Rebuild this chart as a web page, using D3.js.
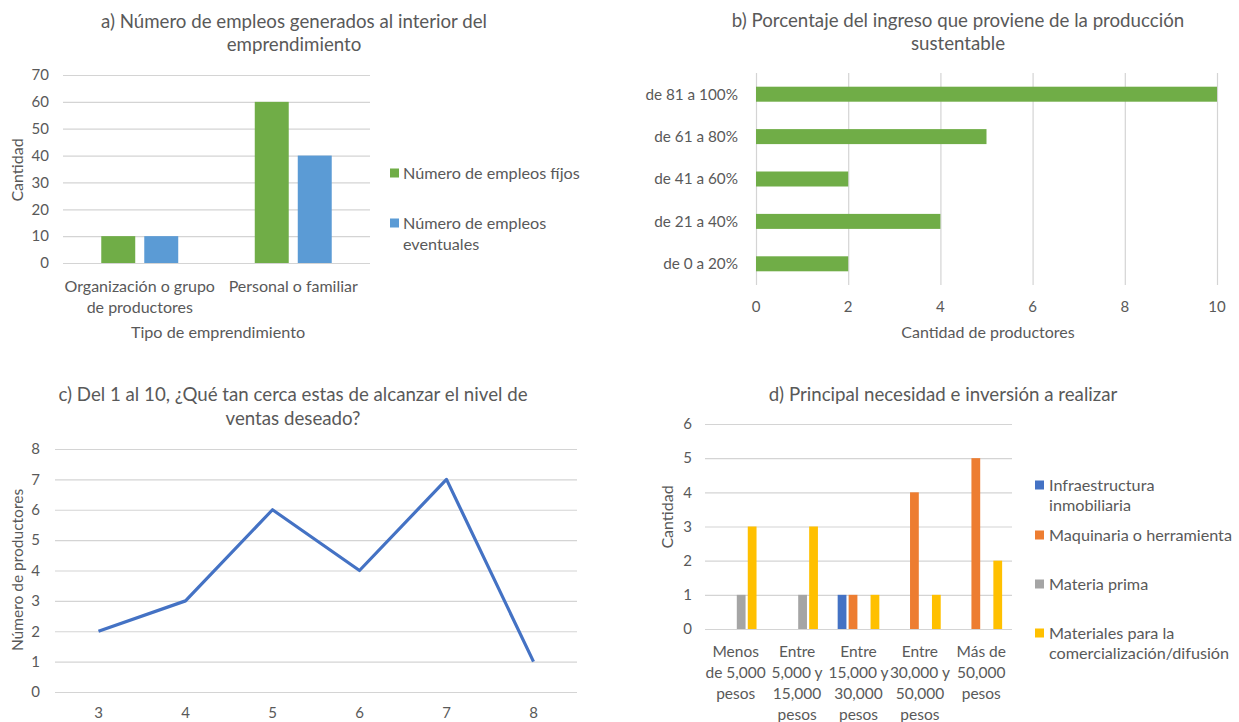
<!DOCTYPE html>
<html>
<head>
<meta charset="utf-8">
<script src="https://cdnjs.cloudflare.com/ajax/libs/d3/7.8.5/d3.min.js"></script>
<style>
  body { margin: 0; background: #fff; }
  svg text { font-family: Lato, "Open Sans", sans-serif; fill: #595959; }
  .grid line { stroke: #d4d4d4; stroke-width: 1.2px; }
  .grid .domain { display: none; }
</style>
</head>
<body>
<div id="chart"></div>
<script>
// a) empleos
var catA = ["Organización o grupo de productores", "Personal o familiar"];
var catALabels = [["Organización o grupo", "de productores"], ["Personal o familiar"]];
var seriesA = ["Número de empleos fíjos", "Número de empleos eventuales"];
var seriesALegend = [["Número de empleos fíjos"], ["Número de empleos", "eventuales"]];
var empleosFijos = [10, 60];
var empleosEventuales = [10, 40];
var ticksA = [0, 10, 20, 30, 40, 50, 60, 70];

// b) porcentaje del ingreso
var catB = ["de 0 a 20%", "de 21 a 40%", "de 41 a 60%", "de 61 a 80%", "de 81 a 100%"];
var productoresB = [2, 4, 2, 5, 10];
var ticksB = [0, 2, 4, 6, 8, 10];

// c) nivel de ventas
var catC = [3, 4, 5, 6, 7, 8];
var productoresC = [2, 3, 6, 4, 7, 1];
var ticksC = [0, 1, 2, 3, 4, 5, 6, 7, 8];

// d) necesidad e inversion
var catD = ["Menos de 5,000 pesos", "Entre 5,000 y 15,000 pesos", "Entre 15,000 y 30,000 pesos",
            "Entre 30,000 y 50,000 pesos", "Más de 50,000 pesos"];
var catDLabels = [["Menos", "de 5,000", "pesos"], ["Entre", "5,000 y", "15,000", "pesos"],
                  ["Entre", "15,000 y", "30,000", "pesos"], ["Entre", "30,000 y", "50,000", "pesos"],
                  ["Más de", "50,000", "pesos"]];
var seriesD = ["Infraestructura inmobiliaria", "Maquinaria o herramienta", "Materia prima",
               "Materiales para la comercialización/difusión"];
var seriesDLegend = [["Infraestructura", "inmobiliaria"], ["Maquinaria o herramienta"], ["Materia prima"],
                     ["Materiales para la", "comercialización/difusión"]];
var infraestructura = [0, 0, 1, 0, 0];
var maquinaria = [0, 0, 1, 4, 5];
var materiaPrima = [1, 1, 0, 0, 0];
var materiales = [3, 3, 1, 1, 2];
var ticksD = [0, 1, 2, 3, 4, 5, 6];

var svg = d3.select("#chart").append("svg").attr("width", 1239).attr("height", 722);

// writes several lines of text centred on x, first line at y
function multiLine(g, lines, x, y, step, size, anchor) {
  lines.forEach(function(t, i) {
    g.append("text")
      .attr("x", x)
      .attr("y", y + i * step)
      .attr("dy", "0.35em")
      .attr("text-anchor", anchor || "middle")
      .attr("font-size", size)
      .text(t);
  });
}

function axisTitle(x, y, text, size, rotate) {
  svg.append("text")
    .attr("transform", "translate(" + x + "," + y + ")" + (rotate ? " rotate(-90)" : ""))
    .attr("dy", "0.35em")
    .attr("text-anchor", "middle")
    .attr("font-size", size)
    .text(text);
}

var titleSize = 18.7, tickSize = 15, legendSize = 16.2, catSize = 16;

// ---------- a ----------
var xA = d3.scaleBand().domain(catA).range([63, 370]);
var xA1 = d3.scaleBand().domain(seriesA).range([0, xA.bandwidth()]).paddingInner(0.21).paddingOuter(0.89);
var yA = d3.scaleLinear().domain([0, 70]).range([263, 75]);
var colorsA = ["#70AD47", "#5B9BD5"];

multiLine(svg, ["a) Número de empleos generados al interior del", "emprendimiento"], 294, 21, 23, titleSize);

svg.append("g").attr("class", "grid")
  .attr("transform", "translate(63,0)")
  .call(d3.axisLeft(yA).tickValues(ticksA).tickSize(-307).tickFormat(""));

svg.append("g").selectAll("text").data(ticksA).enter().append("text")
  .attr("x", 49).attr("y", function(d) { return yA(d); })
  .attr("dy", "0.35em").attr("text-anchor", "end").attr("font-size", tickSize)
  .text(function(d) { return d; });

[empleosFijos, empleosEventuales].forEach(function(vals, s) {
  svg.append("g").selectAll("rect").data(vals).enter().append("rect")
    .attr("x", function(d, i) { return xA(catA[i]) + xA1(seriesA[s]); })
    .attr("y", function(d) { return yA(d); })
    .attr("width", xA1.bandwidth())
    .attr("height", function(d) { return yA(0) - yA(d); })
    .attr("fill", colorsA[s]);
});

catALabels.forEach(function(lines, i) {
  multiLine(svg, lines, xA(catA[i]) + xA.bandwidth() / 2, 286, 21, catSize);
});
axisTitle(218, 332, "Tipo de emprendimiento", 16.2);
axisTitle(17, 170, "Cantidad", 16, true);

var legA = [173, 223];
seriesALegend.forEach(function(lines, s) {
  svg.append("rect").attr("x", 390).attr("y", legA[s] - 4.5).attr("width", 9).attr("height", 9).attr("fill", colorsA[s]);
  multiLine(svg, lines, 403, legA[s], 21, legendSize, "start");
});

// ---------- b ----------
var xB = d3.scaleLinear().domain([0, 10]).range([756, 1217]);
var yB = d3.scaleBand().domain(catB.slice().reverse()).range([73, 285]);

multiLine(svg, ["b) Porcentaje del ingreso que proviene de la producción", "sustentable"], 958, 20, 23, titleSize);

svg.append("g").attr("class", "grid")
  .attr("transform", "translate(0,285)")
  .call(d3.axisBottom(xB).tickValues(ticksB).tickSize(-212).tickFormat(""));

svg.append("g").selectAll("text").data(ticksB).enter().append("text")
  .attr("x", function(d) { return xB(d); }).attr("y", 307)
  .attr("dy", "0.35em").attr("text-anchor", "middle").attr("font-size", tickSize)
  .text(function(d) { return d; });

svg.append("g").selectAll("rect").data(productoresB).enter().append("rect")
  .attr("x", xB(0))
  .attr("y", function(d, i) { return yB(catB[i]) + yB.bandwidth() / 2 - 7.5; })
  .attr("width", function(d) { return xB(d) - xB(0); })
  .attr("height", 15)
  .attr("fill", "#70AD47");

svg.append("g").selectAll("text").data(catB).enter().append("text")
  .attr("x", 738).attr("y", function(d) { return yB(d) + yB.bandwidth() / 2; })
  .attr("dy", "0.35em").attr("text-anchor", "end").attr("font-size", 15.3)
  .text(function(d) { return d; });

axisTitle(988, 332, "Cantidad de productores", 16);

// ---------- c ----------
var xC = d3.scaleBand().domain(catC).range([55, 577]);
var yC = d3.scaleLinear().domain([0, 8]).range([692, 449]);

multiLine(svg, ["c) Del 1 al 10, ¿Qué tan cerca estas de alcanzar el nivel de", "ventas deseado?"], 293, 394, 24, titleSize);

svg.append("g").attr("class", "grid")
  .attr("transform", "translate(55,0)")
  .call(d3.axisLeft(yC).tickValues(ticksC).tickSize(-522).tickFormat(""));

svg.append("g").selectAll("text").data(ticksC).enter().append("text")
  .attr("x", 40).attr("y", function(d) { return yC(d); })
  .attr("dy", "0.35em").attr("text-anchor", "end").attr("font-size", tickSize)
  .text(function(d) { return d; });

var lineC = d3.line()
  .x(function(d, i) { return xC(catC[i]) + xC.bandwidth() / 2; })
  .y(function(d) { return yC(d); });

svg.append("path").datum(productoresC)
  .attr("fill", "none")
  .attr("stroke", "#4472C4")
  .attr("stroke-width", 3.2)
  .attr("stroke-linejoin", "round")
  .attr("d", lineC);

svg.append("g").selectAll("text").data(catC).enter().append("text")
  .attr("x", function(d) { return xC(d) + xC.bandwidth() / 2; }).attr("y", 713)
  .attr("dy", "0.35em").attr("text-anchor", "middle").attr("font-size", tickSize)
  .text(function(d) { return d; });

axisTitle(18, 570, "Número de productores", 15.5, true);

// ---------- d ----------
var xD = d3.scaleBand().domain(catD).range([705, 1012]);
var xD1 = d3.scaleBand().domain(seriesD).range([0, xD.bandwidth()]).paddingInner(0.2).paddingOuter(0.9);
var yD = d3.scaleLinear().domain([0, 6]).range([629, 424]);
var colorsD = ["#4472C4", "#ED7D31", "#A5A5A5", "#FFC000"];

multiLine(svg, ["d) Principal necesidad e inversión a realizar"], 943, 394, 24, titleSize);

svg.append("g").attr("class", "grid")
  .attr("transform", "translate(705,0)")
  .call(d3.axisLeft(yD).tickValues(ticksD).tickSize(-307).tickFormat(""));

svg.append("g").selectAll("text").data(ticksD).enter().append("text")
  .attr("x", 692).attr("y", function(d) { return yD(d); })
  .attr("dy", "0.35em").attr("text-anchor", "end").attr("font-size", tickSize)
  .text(function(d) { return d; });

[infraestructura, maquinaria, materiaPrima, materiales].forEach(function(vals, s) {
  svg.append("g").selectAll("rect").data(vals).enter().append("rect")
    .attr("x", function(d, i) { return xD(catD[i]) + xD1(seriesD[s]); })
    .attr("y", function(d) { return yD(d); })
    .attr("width", xD1.bandwidth())
    .attr("height", function(d) { return yD(0) - yD(d); })
    .attr("fill", colorsD[s]);
});

catDLabels.forEach(function(lines, i) {
  multiLine(svg, lines, xD(catD[i]) + xD.bandwidth() / 2, 652, 20.7, 15.5);
});

axisTitle(667, 517, "Cantidad", 16, true);

var legD = [485, 535, 584, 633];
seriesDLegend.forEach(function(lines, s) {
  svg.append("rect").attr("x", 1035).attr("y", legD[s] - 4.5).attr("width", 9).attr("height", 9).attr("fill", colorsD[s]);
  multiLine(svg, lines, 1049, legD[s], 20.5, legendSize, "start");
});
</script>
</body>
</html>
